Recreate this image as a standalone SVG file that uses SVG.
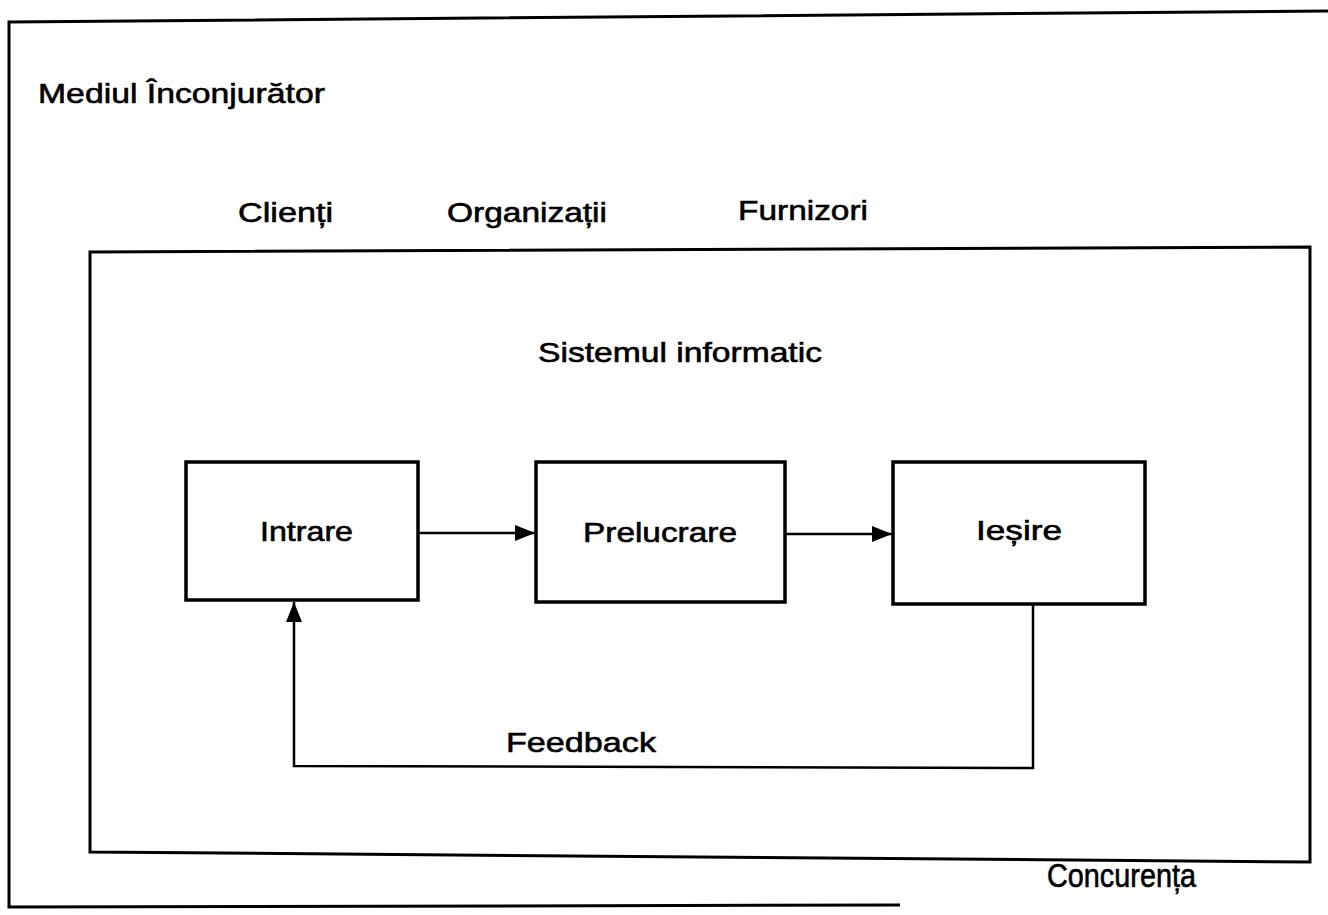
<svg xmlns="http://www.w3.org/2000/svg" width="1328" height="915" viewBox="0 0 1328 915">
  <style>
    .frame { fill: none; stroke: #000; stroke-width: 3; }
    .box { fill: #fff; stroke: #000; stroke-width: 3.5; }
    .line { fill: none; stroke: #000; stroke-width: 2.5; }
    text { font-family: "Liberation Sans", Arial, sans-serif; font-size: 28px; fill: #000; stroke: #000; stroke-width: 0.6; }
    text.tall { font-size: 33px; }
  </style>
  <defs>
    <marker id="head" viewBox="0 0 10 10" refX="10" refY="5" markerWidth="9" markerHeight="8" orient="auto">
      <path d="M0,1 L10,5 L0,9 z" fill="#000"/>
    </marker>
  </defs>
  <rect width="1328" height="915" fill="#fff"/>

  <!-- environment frame -->
  <g id="environment">
    <path class="frame" d="M1328,11 L9,22 L9,907 L900,905"/>
    <text x="38" y="103" textLength="287" lengthAdjust="spacingAndGlyphs">Mediul Înconjurător</text>
    <text x="238" y="222" textLength="95" lengthAdjust="spacingAndGlyphs">Clienți</text>
    <text x="447" y="222" textLength="160" lengthAdjust="spacingAndGlyphs">Organizații</text>
    <text x="738" y="220" textLength="130" lengthAdjust="spacingAndGlyphs">Furnizori</text>
    <text class="tall" x="1047" y="887" textLength="149" lengthAdjust="spacingAndGlyphs">Concurența</text>
  </g>

  <!-- information system boundary -->
  <g id="system">
    <path class="frame" d="M90,252 L1310,247 L1310,862 L90,852 Z"/>
    <text x="538" y="362" textLength="284" lengthAdjust="spacingAndGlyphs">Sistemul informatic</text>
  </g>

  <g id="intrare">
    <rect class="box" x="186" y="462" width="232" height="138"/>
    <text x="260" y="541" textLength="93" lengthAdjust="spacingAndGlyphs">Intrare</text>
  </g>
  <g id="prelucrare">
    <rect class="box" x="536" y="462" width="249" height="140"/>
    <text x="583" y="542" textLength="154" lengthAdjust="spacingAndGlyphs">Prelucrare</text>
  </g>
  <g id="iesire">
    <rect class="box" x="893" y="462" width="252" height="142"/>
    <text x="976" y="540" textLength="86" lengthAdjust="spacingAndGlyphs">Ieșire</text>
  </g>

  <g id="connectors">
    <line class="line" x1="418" y1="533" x2="535" y2="533" marker-end="url(#head)"/>
    <line class="line" x1="785" y1="534" x2="892" y2="534" marker-end="url(#head)"/>
    <path class="line" d="M1033,604 L1033,768 L294,766 L294,602" marker-end="url(#head)"/>
    <text x="506" y="752" textLength="150" lengthAdjust="spacingAndGlyphs">Feedback</text>
  </g>
</svg>
